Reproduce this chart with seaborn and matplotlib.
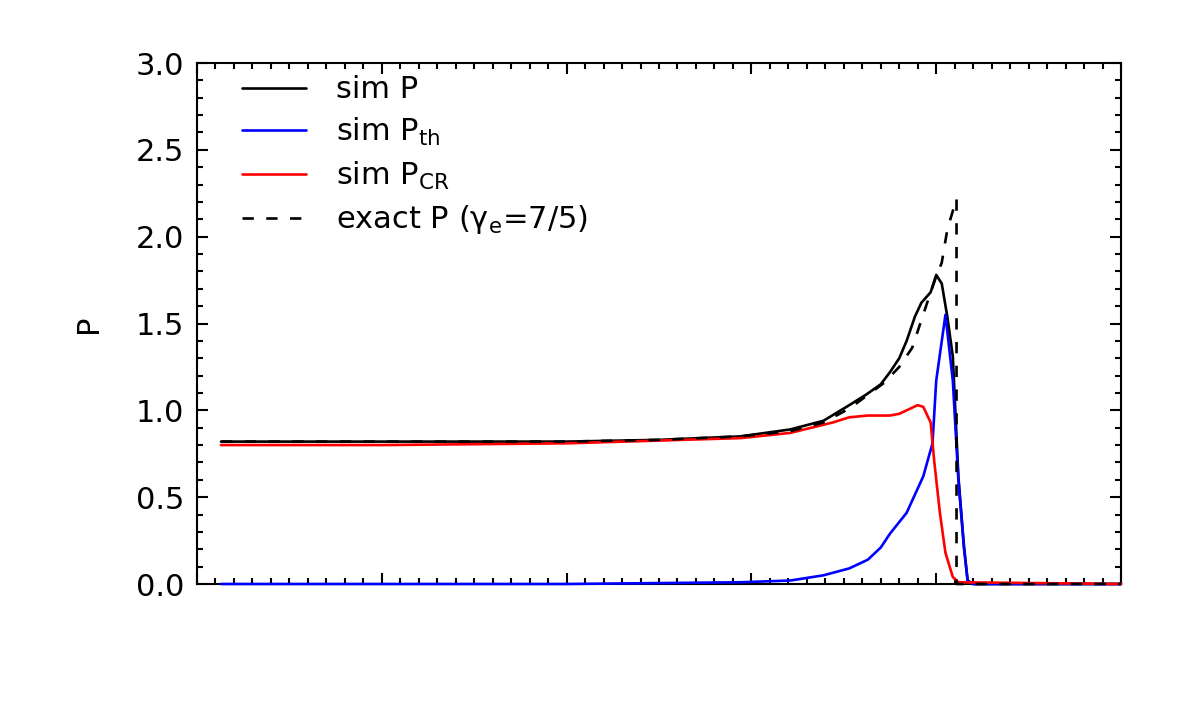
import numpy as np
import pandas as pd
import seaborn as sns
import matplotlib
matplotlib.use("Agg")
import matplotlib.pyplot as plt
from matplotlib.ticker import MultipleLocator, NullFormatter

# Values (x in arbitrary units, 0..5).
x_sim = [0.13, 1.0, 2.0, 2.5, 2.94, 3.21, 3.39, 3.53, 3.62, 3.70, 3.75, 3.80, 3.84,
         3.885, 3.92, 3.97, 4.00, 4.03, 4.06, 4.09, 4.12, 4.15, 4.17, 4.20, 5.0]
p_sim = [0.82, 0.82, 0.82, 0.83, 0.85, 0.89, 0.94, 1.03, 1.09, 1.15, 1.22, 1.30, 1.40,
         1.54, 1.62, 1.68, 1.78, 1.73, 1.54, 1.31, 0.62, 0.22, 0.02, 0.0, 0.0]

x_th = [0.13, 2.0, 2.94, 3.21, 3.39, 3.53, 3.63, 3.70, 3.75, 3.84, 3.93, 3.98,
        4.00, 4.05, 4.09, 4.12, 4.15, 4.17, 4.20, 5.0]
p_th = [0.0, 0.0, 0.01, 0.02, 0.05, 0.09, 0.14, 0.21, 0.29, 0.41, 0.62, 0.81,
        1.17, 1.55, 1.17, 0.60, 0.21, 0.02, 0.0, 0.0]

x_cr = [0.13, 1.0, 2.0, 2.94, 3.21, 3.44, 3.53, 3.63, 3.75, 3.80, 3.90, 3.93,
        3.97, 3.99, 4.02, 4.05, 4.09, 4.12, 5.0]
p_cr = [0.80, 0.80, 0.81, 0.84, 0.87, 0.93, 0.96, 0.97, 0.97, 0.98, 1.03, 1.02,
        0.93, 0.70, 0.41, 0.18, 0.04, 0.01, 0.0]

x_exact = [0.13, 1.0, 2.0, 2.5, 2.94, 3.21, 3.39, 3.53, 3.72, 3.80, 3.87, 3.92,
           3.97, 4.00, 4.03, 4.06, 4.11, 4.11, 5.0]
p_exact = [0.82, 0.82, 0.82, 0.83, 0.85, 0.88, 0.93, 1.01, 1.16, 1.25, 1.36, 1.52,
           1.68, 1.77, 1.85, 2.04, 2.22, 0.0, 0.0]

labels = ["sim P", "sim P$_{\\rm th}$", "sim P$_{\\rm CR}$", "exact P (γ$_{\\rm e}$=7/5)"]

sns.set_style("ticks")
plt.rcParams["font.family"] = ["DejaVu Sans"]
plt.rcParams["mathtext.fontset"] = "dejavusans"
for key in ["text.color", "axes.labelcolor", "xtick.color", "ytick.color", "axes.edgecolor"]:
    plt.rcParams[key] = "black"

fig = plt.figure(figsize=(11.8, 7.09), dpi=100)
ax = fig.add_axes([197 / 1180, 1 - 584 / 709, 924 / 1180, 521 / 709])

lw = 1.9
sns.lineplot(x=x_sim, y=p_sim, ax=ax, color="black", lw=lw, sort=False, estimator=None, label=labels[0])
sns.lineplot(x=x_th, y=p_th, ax=ax, color="#0000ff", lw=lw, sort=False, estimator=None, label=labels[1])
sns.lineplot(x=x_cr, y=p_cr, ax=ax, color="#ff0000", lw=lw, sort=False, estimator=None, label=labels[2])
sns.lineplot(x=x_exact, y=p_exact, ax=ax, color="black", lw=lw, sort=False, estimator=None,
             label=labels[3], linestyle=(0, (4.3, 4.7)))

for line in ax.lines:
    line.set_clip_on(False)
    line.set_zorder(3)

ax.set_xlim(0, 5)
ax.set_ylim(0, 3.0)
ax.xaxis.set_major_locator(MultipleLocator(1))
ax.xaxis.set_minor_locator(MultipleLocator(0.1))
ax.xaxis.set_major_formatter(NullFormatter())
ax.yaxis.set_major_locator(MultipleLocator(0.5))
ax.yaxis.set_minor_locator(MultipleLocator(0.1))
ax.yaxis.set_major_formatter(plt.FormatStrFormatter("%.1f"))
ax.tick_params(which="both", direction="in", top=True, right=True, width=1.5, labelsize=22, pad=9)
ax.tick_params(which="major", length=8)
ax.tick_params(which="minor", length=4.3)
for s in ax.spines.values():
    s.set_linewidth(1.5)
ax.set_xlabel("")
ax.set_ylabel("P", fontsize=22, labelpad=24)

ax.legend(loc="upper left", frameon=False, fontsize=22, handlelength=2.1, handletextpad=1.0,
          labelspacing=0.38, borderaxespad=0.0, bbox_to_anchor=(0.035, 1.0))

fig.savefig("out.png", dpi=100)
